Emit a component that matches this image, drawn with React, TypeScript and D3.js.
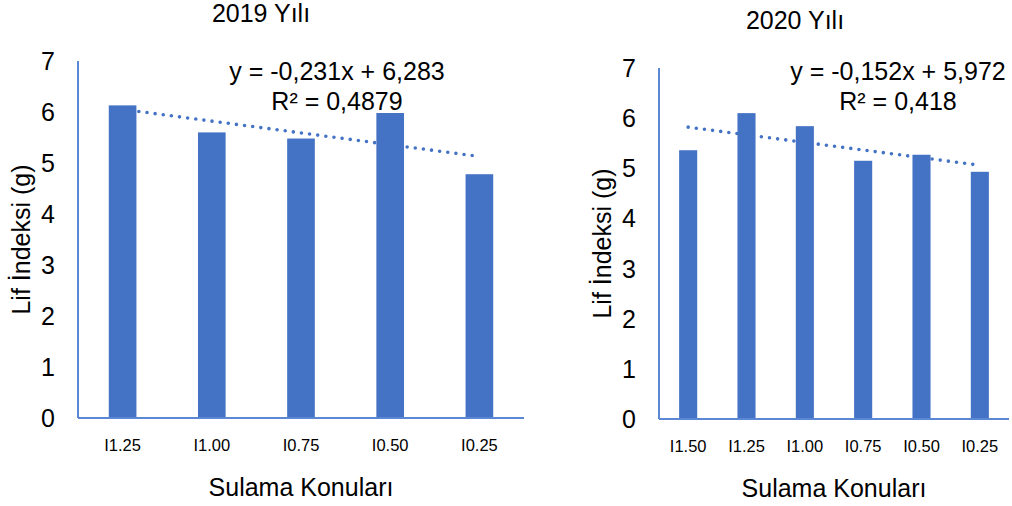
import { useMemo } from 'react';
import * as d3 from "d3"

// data
const cats2019 = ["I1.25", "I1.00", "I0.75", "I0.50", "I0.25"];
const vals2019 = [6.13, 5.60, 5.48, 5.98, 4.78];
const trend2019 = [-0.231, 6.283]; // slope, intercept
const eq2019 = ["y = -0,231x + 6,283", "R² = 0,4879"];

const cats2020 = ["I1.50", "I1.25", "I1.00", "I0.75", "I0.50", "I0.25"];
const vals2020 = [5.36, 6.10, 5.84, 5.15, 5.27, 4.93];
const trend2020 = [-0.152, 5.972];
const eq2020 = ["y = -0,152x + 5,972", "R² = 0,418"];

const yTicks = [0, 1, 2, 3, 4, 5, 6, 7];

const BLUE = "#4472C4";
const AXIS = "#5B87D4";
const FONT = "'Liberation Sans', Arial, sans-serif";

type panelArgs = {
  title: string, cats: string[], vals: number[], trend: number[], eq: string[],
  left: number, right: number, top: number, bottom: number,
  titleX: number, titleY: number, eqX: number
}

const Panel = ({ title, cats, vals, trend, eq, left, right, top, bottom, titleX, titleY, eqX }: panelArgs) => {
  const x = useMemo(() => d3.scaleBand<string>().domain(cats).range([left, right]).paddingInner(0.69).paddingOuter(0.345), [cats, left, right]);
  const y = useMemo(() => d3.scaleLinear().domain([0, 7]).range([bottom, top]), [top, bottom]);

  // trendline from the equation at x = 1..n
  const line = d3.line<string>()
    .x(d => x(d)! + x.bandwidth() / 2)
    .y((d, i) => y(trend[0] * (i + 1) + trend[1]));

  return <g>
    <text x={titleX} y={titleY} textAnchor="middle" fontSize={25}>{title}</text>
    {yTicks.map(t =>
      <text key={t} x={left - 23} y={y(t)} dy="0.36em" textAnchor="end" fontSize={25}>{t}</text>
    )}
    <text transform={`translate(${left - 48},${(top + bottom) / 2}) rotate(-90)`} textAnchor="middle" fontSize={25}>Lif İndeksi (g)</text>
    {cats.map((c, i) =>
      <rect key={c} x={x(c)} y={y(vals[i])} width={x.bandwidth()} height={bottom - y(vals[i])} fill={BLUE} />
    )}
    <path d={line(cats) || ""} fill="none" stroke={BLUE} strokeWidth={3.6} strokeDasharray="0 8.2" strokeLinecap="round" />
    <line x1={left} x2={left} y1={top} y2={bottom} stroke={AXIS} strokeWidth={2} />
    <line x1={left} x2={right} y1={bottom} y2={bottom} stroke={AXIS} strokeWidth={2} />
    {cats.map(c =>
      <text key={c} x={x(c)! + x.bandwidth() / 2} y={bottom + 33} textAnchor="middle" fontSize={16.5}>{c}</text>
    )}
    <text x={(left + right) / 2} y={bottom + 78} textAnchor="middle" fontSize={25}>Sulama Konuları</text>
    <text x={eqX} y={80} textAnchor="middle" fontSize={25}>{eq[0]}</text>
    <text x={eqX} y={110} textAnchor="middle" fontSize={25}>{eq[1]}</text>
  </g>;
};

const App = () => {
  return <div style={{ position: "fixed", left: 0, top: 0 }}>
    <svg width={1012} height={506} fontFamily={FONT} style={{ display: "block", background: "white" }}>
      <Panel title="2019 Yılı" cats={cats2019} vals={vals2019} trend={trend2019} eq={eq2019}
        left={78} right={524} top={61} bottom={418} titleX={261} titleY={22} eqX={337} />
      <Panel title="2020 Yılı" cats={cats2020} vals={vals2020} trend={trend2020} eq={eq2020}
        left={659} right={1009} top={68} bottom={419} titleX={795} titleY={29} eqX={898} />
    </svg>
  </div>;
};

export default App;
